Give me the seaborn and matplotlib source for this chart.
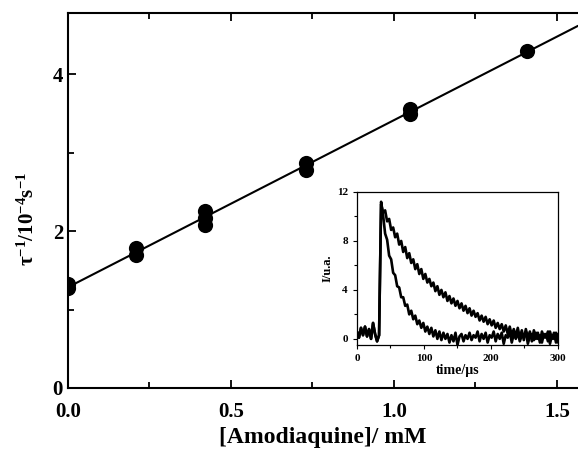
import numpy as np
import pandas as pd
import matplotlib.pyplot as plt
import seaborn as sns
from matplotlib.ticker import MultipleLocator

# main plot: reciprocal lifetime vs quencher concentration
conc = [0.0, 0.0, 0.21, 0.21, 0.42, 0.42, 0.42, 0.73, 0.73, 1.05, 1.05, 1.41]
rate = [1.27, 1.32, 1.70, 1.78, 2.08, 2.17, 2.25, 2.78, 2.87, 3.49, 3.56, 4.30]

# inset: decay traces, sampled every 3 us
time_us = list(range(0, 301, 3))
baseline = [0.6, 0.1, 0.9, 0.3, 1.0, 0.2, 0.8, 0.0, 1.3, 0.4, -0.2, 0.3]
fast_decay = [11.2, 10.1, 8.6, 8.1, 6.8, 6.5, 5.4, 5.2, 4.3, 4.2, 3.4, 3.4, 2.7, 2.8,
              2.0, 2.3, 1.6, 1.9, 1.2, 1.5, 0.9, 1.3, 0.6, 1.0, 0.4, 0.9, 0.2, 0.7,
              0.0, 0.6, -0.1, 0.5, 0.0, 0.4, -0.3, 0.3, -0.2, 0.5, -0.5, 0.2, 0.4,
              -0.2, 0.3, 0.0, 0.5, -0.1, 0.3, 0.1, 0.6, -0.2, 0.4, 0.0, 0.5, -0.3,
              0.3, 0.1, 0.6, -0.2, 0.4, 0.0, 0.5, -0.4, 0.3, 0.1, 0.6, -0.3, 0.4,
              0.0, 0.5, -0.2, 0.3, 0.1, 0.6, -0.4, 0.2, 0.4, -0.1, 0.5, 0.0, 0.3,
              -0.3, 0.4, 0.1, 0.6, -0.4, 0.3, 0.0, 0.5, -0.3]
slow_decay = [11.0, 10.3, 10.5, 9.6, 9.8, 8.9, 9.1, 8.3, 8.6, 7.7, 8.0, 7.1, 7.5, 6.6,
              7.0, 6.2, 6.5, 5.7, 6.1, 5.3, 5.7, 4.9, 5.3, 4.6, 4.9, 4.3, 4.6, 3.9,
              4.3, 3.6, 4.0, 3.4, 3.8, 3.1, 3.5, 2.9, 3.3, 2.7, 3.1, 2.5, 2.9, 2.3,
              2.7, 2.1, 2.5, 1.9, 2.3, 1.8, 2.1, 1.5, 1.9, 1.4, 1.8, 1.2, 1.6, 1.1,
              1.5, 0.9, 1.3, 0.8, 1.2, 0.6, 1.1, 0.4, 1.0, 0.3, 0.8, 0.2, 0.9, 0.1,
              0.7, -0.1, 0.8, 0.1, 0.6, -0.2, 0.7, 0.0, 0.5, -0.3, 0.6, 0.1, 0.4,
              -0.2, 0.6, 0.0, 0.5, -0.3, 0.4]

sns.set_style('ticks')
plt.rcParams['font.family'] = ['Liberation Serif', 'DejaVu Serif']
plt.rcParams['font.weight'] = 'bold'
plt.rcParams['axes.labelweight'] = 'bold'
plt.rcParams['mathtext.fontset'] = 'custom'
plt.rcParams['mathtext.rm'] = 'Liberation Serif:bold'
plt.rcParams['mathtext.it'] = 'Liberation Serif:bold'
plt.rcParams['mathtext.bf'] = 'Liberation Serif:bold'
plt.rcParams['mathtext.default'] = 'rm'
for k in ['text.color', 'axes.labelcolor', 'xtick.color', 'ytick.color', 'axes.edgecolor']:
    plt.rcParams[k] = 'black'

fig = plt.figure(figsize=(5.78, 4.57), dpi=100)
ax = fig.add_axes([0.1176, 0.151, 0.8824, 0.8206])
ax.set_xlim(0, 1.565)
ax.set_ylim(0, 4.78)

df = pd.DataFrame({'conc': conc, 'rate': rate})
sns.regplot(data=df, x='conc', y='rate', ax=ax, ci=None, truncate=False,
            color='black', scatter_kws={'s': 120, 'alpha': 1, 'linewidths': 0},
            line_kws={'lw': 1.5})
ax.set_xlim(0, 1.565)
ax.set_ylim(0, 4.78)

ax.xaxis.set_major_locator(MultipleLocator(0.5))
ax.xaxis.set_minor_locator(MultipleLocator(0.25))
ax.yaxis.set_major_locator(MultipleLocator(2))
ax.yaxis.set_minor_locator(MultipleLocator(1))
ax.xaxis.set_major_formatter(plt.FormatStrFormatter('%.1f'))
ax.tick_params(which='both', direction='in', top=True, right=False, width=1.3,
               labelsize=15)
ax.tick_params(which='major', length=6)
ax.tick_params(which='minor', length=4)
ax.tick_params(axis='x', pad=10)
for s in ['left', 'bottom', 'top']:
    ax.spines[s].set_linewidth(1.5)
ax.spines['right'].set_visible(False)
ax.set_xlabel('[Amodiaquine]/ mM', fontsize=17, fontweight='bold', labelpad=4)
ax.set_ylabel(r'τ$^{-1}$/10$^{-4}$s$^{-1}$', fontsize=15, fontweight='bold')
ax.yaxis.set_label_coords(-0.057, 0.45)

# inset with the transient decays
ins = fig.add_axes([0.6176, 0.2451, 0.3478, 0.3348])
traces = pd.DataFrame({
    'time': time_us * 2,
    'I': baseline + fast_decay + baseline + slow_decay,
    'trace': ['fast'] * len(time_us) + ['slow'] * len(time_us),
})
sns.lineplot(data=traces, x='time', y='I', units='trace', estimator=None,
             color='black', lw=1.9, ax=ins, legend=False)
ins.set_xlim(0, 300)
ins.set_ylim(-0.5, 12)
ins.xaxis.set_major_locator(MultipleLocator(100))
ins.xaxis.set_minor_locator(MultipleLocator(50))
ins.yaxis.set_major_locator(MultipleLocator(4))
ins.yaxis.set_minor_locator(MultipleLocator(2))
ins.tick_params(which='both', direction='out', labelsize=8, width=0.8)
ins.tick_params(which='major', length=3)
ins.tick_params(which='minor', length=2)
for s in ins.spines.values():
    s.set_linewidth(0.9)
ins.set_xlabel('time/µs', fontsize=10, fontweight='bold', labelpad=1)
ins.set_ylabel('I/u.a.', fontsize=9, fontweight='bold', labelpad=2)

fig.savefig('out.png', dpi=100)
